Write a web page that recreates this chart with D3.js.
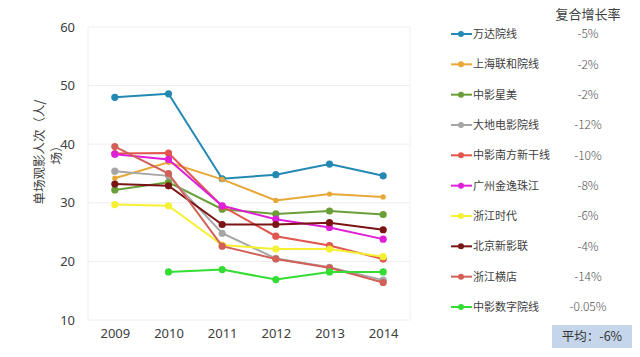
<!DOCTYPE html>
<html>
<head>
<meta charset="utf-8">
<script src="https://cdn.jsdelivr.net/npm/d3@7"></script>
<style>
html,body{margin:0;padding:0;background:#fff;}
svg{display:block;}
</style>
</head>
<body>
<svg id="chart" width="640" height="357"></svg>
<script>
const years = ["2009","2010","2011","2012","2013","2014"];
const yTicks = [10,20,30,40,50,60];
const names = ["万达院线","上海联和院线","中影星美","大地电影院线","中影南方新干线","广州金逸珠江","浙江时代","北京新影联","浙江横店","中影数字院线"];
const growth = ["-5%","-2%","-2%","-12%","-10%","-8%","-6%","-4%","-14%","-0.05%"];
const colors = ["#2389b3","#e8a838","#6a9e36","#a6a6a6","#e0554d","#e020d8","#f6f032","#7b1414","#d26058","#33dd33"];
const wanda     = [48.0, 48.6, 34.1, 34.8, 36.6, 34.6];
const shanghai  = [34.2, 36.9, 34.0, 30.4, 31.5, 31.0];
const xingmei   = [32.2, 33.5, 28.9, 28.1, 28.6, 28.0];
const dadi      = [35.4, 34.6, 24.8, 20.5, 19.0, 16.8];
const nanfang   = [38.4, 38.5, 29.4, 24.3, 22.7, 20.4];
const guangzhou = [38.3, 37.4, 29.5, 27.2, 25.8, 23.8];
const shidai    = [29.7, 29.5, 22.8, 22.1, 22.1, 20.8];
const beijing   = [33.2, 32.9, 26.3, 26.3, 26.6, 25.4];
const hengdian  = [39.6, 35.0, 22.6, 20.4, 18.9, 16.4];
const digital   = [null, 18.2, 18.6, 16.9, 18.2, 18.2];
const average = "平均：-6%";
const growthTitle = "复合增长率";
const yTitle = ["单场观影人次（人/","场）"];

const series = [wanda, shanghai, xingmei, dadi, nanfang, guangzhou, shidai, beijing, hengdian, digital];

const svg = d3.select("#chart");
const L = 88, R = 410, T = 27, B = 320;
const x = d3.scalePoint().domain(years).range([L, R]).padding(0.5);
const y = d3.scaleLinear().domain([10, 60]).range([B, T]);

// grid
svg.append("g").selectAll("line").data(yTicks).join("line")
  .attr("x1", L).attr("x2", R)
  .attr("y1", d => y(d)).attr("y2", d => y(d))
  .attr("stroke", "#eeeeee").attr("stroke-width", 1);
svg.append("line").attr("x1", L).attr("x2", L).attr("y1", T).attr("y2", B).attr("stroke", "#f0f0f0");
svg.append("line").attr("x1", R).attr("x2", R).attr("y1", T).attr("y2", B).attr("stroke", "#f0f0f0");

// axes
const yAxis = svg.append("g").attr("transform", `translate(${L},0)`)
  .call(d3.axisLeft(y).tickValues(yTicks).tickSize(0).tickPadding(13));
yAxis.select(".domain").remove();
yAxis.selectAll("text").attr("font-family", "'Noto Sans', sans-serif").attr("font-size", 13).attr("fill", "#404040");

const xAxis = svg.append("g").attr("transform", `translate(0,${B})`)
  .call(d3.axisBottom(x).tickSize(0).tickPadding(9));
xAxis.select(".domain").remove();
xAxis.selectAll("text").attr("font-family", "'Noto Sans', sans-serif").attr("font-size", 13).attr("fill", "#404040");

// y title
const yt = svg.append("text")
  .attr("transform", "translate(44,152) rotate(-90)")
  .attr("font-family", "'Noto Sans CJK SC', sans-serif").attr("font-size", 12.5).attr("fill", "#404040")
  .attr("text-anchor", "middle");
yt.selectAll("tspan").data(yTitle).join("tspan")
  .attr("x", 0).attr("dy", (d, i) => i === 0 ? 0 : 17).text(d => d);

// lines
const line = d3.line().defined(d => d != null).x((d, i) => x(years[i])).y(d => y(d));
series.forEach((s, k) => {
  const g = svg.append("g");
  g.append("path").datum(s).attr("d", d3.line().defined(d => d.v != null).x(d => x(d.yr)).y(d => y(d.v))(s.map((v, i) => ({v, yr: years[i]}))))
    .attr("fill", "none").attr("stroke", colors[k]).attr("stroke-width", 2);
  g.selectAll("circle").data(s.map((v, i) => ({v, yr: years[i]})).filter(d => d.v != null)).join("circle")
    .attr("cx", d => x(d.yr)).attr("cy", d => y(d.v))
    .attr("r", k === 1 ? 2.6 : 3.6).attr("fill", colors[k]);
});

// legend
const legY = d3.scaleLinear().domain([0, 9]).range([34, 307]);
const lg = svg.append("g");
names.forEach((n, k) => {
  const yy = legY(k);
  lg.append("line").attr("x1", 451).attr("x2", 472).attr("y1", yy).attr("y2", yy)
    .attr("stroke", colors[k]).attr("stroke-width", 2);
  lg.append("circle").attr("cx", 461).attr("cy", yy).attr("r", 3).attr("fill", colors[k]);
  lg.append("text").attr("x", 473).attr("y", yy).attr("dy", "0.36em")
    .attr("font-family", "'Noto Sans CJK SC', sans-serif").attr("font-size", 11).attr("fill", "#404040")
    .text(n);
  lg.append("text").attr("x", 588).attr("y", yy).attr("dy", "0.36em").attr("text-anchor", "middle")
    .attr("font-family", "'Noto Sans CJK SC', sans-serif").attr("font-size", 12).attr("font-weight", 300).attr("fill", "#505050")
    .text(growth[k]);
});
svg.append("text").attr("x", 588).attr("y", 14).attr("dy", "0.36em").attr("text-anchor", "middle")
  .attr("font-family", "'Noto Sans CJK SC', sans-serif").attr("font-size", 13).attr("fill", "#404040")
  .text(growthTitle);

svg.append("rect").attr("x", 552).attr("y", 325).attr("width", 80).attr("height", 23).attr("fill", "#c5d5ea");
svg.append("text").attr("x", 592).attr("y", 336.5).attr("dy", "0.36em").attr("text-anchor", "middle")
  .attr("font-family", "'Noto Sans CJK SC', sans-serif").attr("font-size", 12.5).attr("fill", "#333")
  .text(average);
</script>
</body>
</html>
